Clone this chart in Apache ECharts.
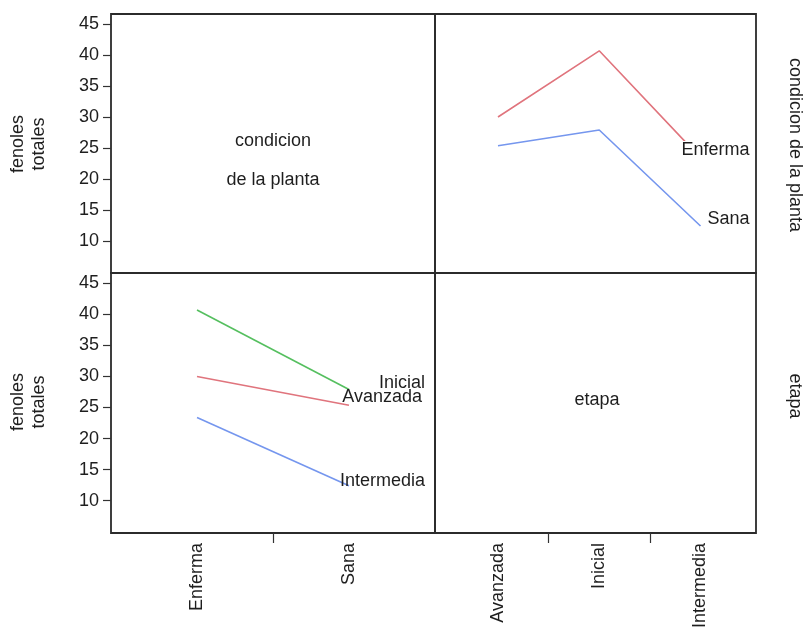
<!DOCTYPE html>
<html>
<head>
<meta charset="utf-8">
<script src="https://cdn.jsdelivr.net/npm/echarts@6/dist/echarts.min.js"></script>
<style>html,body{margin:0;padding:0;background:#fff}#c{width:806px;height:629px}</style>
</head>
<body>
<div id="c"></div>
<script>
// ---- data ----
const condiciones = ['Enferma', 'Sana'];
const etapas = ['Avanzada', 'Inicial', 'Intermedia'];
const yTicks = [10, 15, 20, 25, 30, 35, 40, 45];
// mean fenoles totales by condicion (rows) across etapas
const enferma = [30.0, 40.7, 23.4];
const sana = [25.35, 27.9, 12.4];
// mean fenoles totales by etapa across condiciones
const avanzada = [30.0, 25.35];
const inicial = [40.7, 27.9];
const intermedia = [23.4, 12.4];

const FONT = 'Liberation Sans, Arial, sans-serif';
const TXT = '#1e1e1e';
const C_RED = '#e0747d', C_GREEN = '#55bf5f', C_BLUE = '#7596ee';
const YMIN = 4.8, YMAX = 46.65;

const chart = echarts.init(document.getElementById('c'), null, {renderer: 'canvas'});

const gridBase = {show: true, borderColor: '#2b2b2b', borderWidth: 1.8, backgroundColor: 'transparent', containLabel: false, outerBoundsMode: 'none'};
const grids = [
  Object.assign({left: 111, top: 14, width: 324, height: 259}, gridBase),
  Object.assign({left: 435, top: 14, width: 321, height: 259}, gridBase),
  Object.assign({left: 111, top: 273, width: 324, height: 260}, gridBase),
  Object.assign({left: 435, top: 273, width: 321, height: 260}, gridBase)
];

function yAxis(gi, showLabels) {
  return {
    type: 'value', gridIndex: gi, min: YMIN, max: YMAX,
    axisLine: {show: false}, splitLine: {show: false},
    axisTick: {show: showLabels, inside: false, length: 8, customValues: yTicks, lineStyle: {color: '#333', width: 1.2}},
    axisLabel: {show: showLabels, customValues: yTicks, margin: 12, color: TXT, fontFamily: FONT, fontSize: 18}
  };
}
function xAxis(gi, cats, min, max, showLabels) {
  const idx = cats.map((c, i) => i + 1);
  const bounds = idx.slice(0, -1).map(v => v + 0.5);
  return {
    type: 'value', gridIndex: gi, min: min, max: max,
    axisLine: {show: false}, splitLine: {show: false},
    axisTick: {show: showLabels, inside: false, length: 10, customValues: bounds, lineStyle: {color: '#333', width: 1.2}},
    axisLabel: {show: showLabels, customValues: idx, rotate: 90, margin: 10, color: TXT, fontFamily: FONT, fontSize: 18,
      formatter: v => cats[Math.round(v) - 1] || ''}
  };
}

function lineSeries(name, vals, gi, color, dx, dy, bg) {
  const last = vals.length - 1;
  return {
    type: 'line', name: name, xAxisIndex: gi, yAxisIndex: gi,
    data: vals.map((v, i) => [i + 1, v]),
    showSymbol: true, symbol: 'circle', symbolSize: 0,
    lineStyle: {color: color, width: 1.6},
    itemStyle: {color: color},
    silent: true, emphasis: {disabled: true},
    label: {
      show: true, position: [dx, dy], align: 'right', verticalAlign: 'middle',
      color: TXT, fontFamily: FONT, fontSize: 18,
      backgroundColor: bg || 'transparent', padding: 0,
      formatter: p => p.dataIndex === last ? name : ''
    }
  };
}

const option = {
  animation: false,
  backgroundColor: '#fff',
  grid: grids,
  xAxis: [
    xAxis(0, condiciones, 0.434, 2.566, false),
    xAxis(1, etapas, 0.378, 3.548, false),
    xAxis(2, condiciones, 0.434, 2.566, true),
    xAxis(3, etapas, 0.378, 3.548, true)
  ],
  yAxis: [yAxis(0, true), yAxis(1, false), yAxis(2, true), yAxis(3, false)],
  series: [
    lineSeries('Enferma', enferma, 1, C_RED, 49, -8, '#fff'),
    lineSeries('Sana', sana, 1, C_BLUE, 49, -7),
    lineSeries('Inicial', inicial, 2, C_GREEN, 76, -6),
    lineSeries('Avanzada', avanzada, 2, C_RED, 73, -8),
    lineSeries('Intermedia', intermedia, 2, C_BLUE, 76, -5)
  ],
  graphic: [
    {type: 'text', x: 273, y: 141, style: {text: 'condicion', fill: TXT, font: '18px ' + FONT, textAlign: 'center', textVerticalAlign: 'middle'}},
    {type: 'text', x: 273, y: 180, style: {text: 'de la planta', fill: TXT, font: '18px ' + FONT, textAlign: 'center', textVerticalAlign: 'middle'}},
    {type: 'text', x: 597, y: 400, style: {text: 'etapa', fill: TXT, font: '18px ' + FONT, textAlign: 'center', textVerticalAlign: 'middle'}},
    {type: 'text', x: 29, y: 144, rotation: Math.PI / 2, style: {text: 'fenoles\ntotales', fill: TXT, font: '18px ' + FONT, lineHeight: 21, textAlign: 'center', textVerticalAlign: 'middle'}},
    {type: 'text', x: 29, y: 402, rotation: Math.PI / 2, style: {text: 'fenoles\ntotales', fill: TXT, font: '18px ' + FONT, lineHeight: 21, textAlign: 'center', textVerticalAlign: 'middle'}},
    {type: 'text', x: 795, y: 145, rotation: -Math.PI / 2, style: {text: 'condicion de la planta', fill: TXT, font: '18px ' + FONT, textAlign: 'center', textVerticalAlign: 'middle'}},
    {type: 'text', x: 795, y: 396, rotation: -Math.PI / 2, style: {text: 'etapa', fill: TXT, font: '18px ' + FONT, textAlign: 'center', textVerticalAlign: 'middle'}}
  ]
};
chart.setOption(option);
</script>
</body>
</html>
